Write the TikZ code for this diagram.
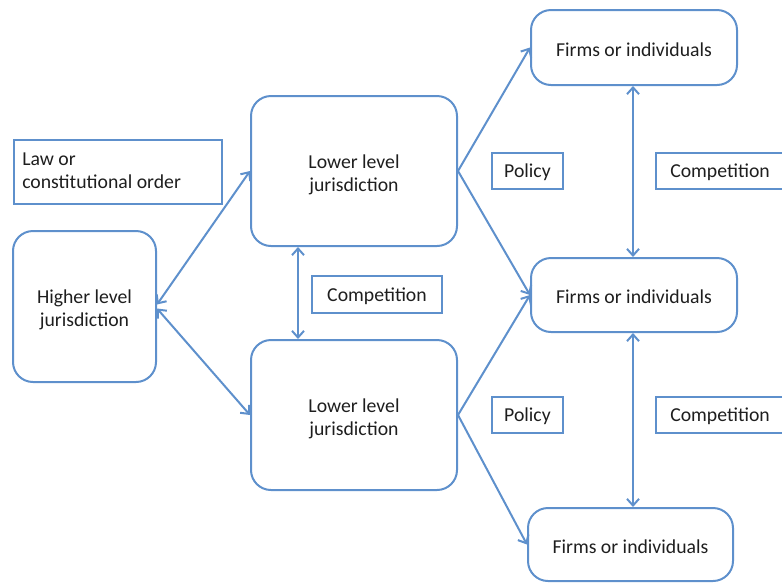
\documentclass[tikz,border=0pt]{standalone}
\usepackage{fontspec}
\setmainfont{Carlito}
\usetikzlibrary{arrows.meta}
\definecolor{lineblue}{RGB}{94,144,204}
\definecolor{txt}{RGB}{30,30,30}
\tikzset{
  rbox/.style={draw=lineblue, line width=1.5pt, rounded corners=15pt, inner sep=0pt},
  sbox/.style={draw=lineblue, line width=1.5pt, inner sep=0pt},
  ctxt/.style={text=txt, align=center, inner sep=0pt},
  ltxt/.style={text=txt, align=left, anchor=west, inner sep=0pt},
  conn/.style={draw=lineblue, line width=1.5pt, -{Straight Barb[length=5pt,width=9pt]}},
  dconn/.style={draw=lineblue, line width=1.5pt, {Straight Barb[length=5pt,width=9pt]}-{Straight Barb[length=5pt,width=9pt]}},
}
\begin{document}
\begin{tikzpicture}[x=0.75pt,y=-0.75pt,font=\fontsize{14.8}{17.3}\selectfont]
\useasboundingbox (0,0) rectangle (782,583);
% boxes
\node[sbox, minimum width=208*0.75pt, minimum height=64*0.75pt, anchor=north west] (law) at (13,139) {};
\node[ltxt] (lawtxt) at (22,171) {Law or\\constitutional order};
\node[rbox, minimum width=143*0.75pt, minimum height=151*0.75pt] (hl) at (84.5,306.5) {};
\node[ctxt] (hlt) at ([yshift=-2.6pt]hl.center) {Higher level\\jurisdiction};
\node[rbox, minimum width=206*0.75pt, minimum height=150*0.75pt] (lt) at (354,171) {};
\node[ctxt] (ltt) at ([yshift=-3pt]lt.center) {Lower level\\jurisdiction};
\node[rbox, minimum width=206*0.75pt, minimum height=150*0.75pt] (lb) at (354,415) {};
\node[ctxt] (lbt) at ([yshift=-3pt]lb.center) {Lower level\\jurisdiction};
\node[rbox, minimum width=206*0.75pt, minimum height=75*0.75pt] (ft) at (634,47.5) {};
\node[ctxt] (ftt) at ([yshift=-1.3pt]ft.center) {Firms or individuals};
\node[rbox, minimum width=206*0.75pt, minimum height=74*0.75pt] (fm) at (634,295) {};
\node[ctxt] (fmt) at ([yshift=-1.3pt]fm.center) {Firms or individuals};
\node[rbox, minimum width=205*0.75pt, minimum height=73*0.75pt] (fb) at (630.5,544.5) {};
\node[ctxt] (fbt) at ([yshift=-1.3pt]fb.center) {Firms or individuals};
\node[sbox, minimum width=130*0.75pt, minimum height=37*0.75pt] (cm) at (377,294.5) {};
\node[ctxt] (cmt) at ([yshift=-1.3pt]cm.center) {Competition};
\node[sbox, minimum width=71*0.75pt, minimum height=36*0.75pt] (pt) at (527.5,171) {};
\node[ctxt] (ptt) at ([yshift=-0.8pt]pt.center) {Policy};
\node[sbox, minimum width=71*0.75pt, minimum height=36*0.75pt] (pb) at (527.5,415) {};
\node[ctxt] (pbt) at ([yshift=-0.8pt]pb.center) {Policy};
\node[sbox, minimum width=136*0.75pt, minimum height=36*0.75pt, anchor=west] (ct) at (655,171) {};
\node[ltxt] (cttxt) at ([yshift=-0.8pt]670,171) {Competition};
\node[sbox, minimum width=136*0.75pt, minimum height=36*0.75pt, anchor=west] (cb) at (655,415) {};
\node[ltxt] (cbtxt) at ([yshift=-0.8pt]670,415) {Competition};
% connectors
\draw[dconn] (hl.east) ++(0,-2) coordinate (h1) (h1) -- (lt.west);
\draw[dconn] (hl.east) ++(0,2) coordinate (h2) (h2) -- (lb.west);
\draw[dconn] (lt.south -| 298,0) coordinate (v1) (v1) -- (lb.north -| 298,0);
\draw[conn] (lt.east) -- (ft.west);
\draw[conn] (lt.east) -- (fm.west);
\draw[conn] (lb.east) -- (fm.west);
\draw[conn] (lb.east) -- (fb.west);
\draw[dconn] (ft.south -| 633,0) -- (fm.north -| 633,0);
\draw[dconn] (fm.south -| 633,0) -- (fb.north -| 633,0);
\end{tikzpicture}
\end{document}
